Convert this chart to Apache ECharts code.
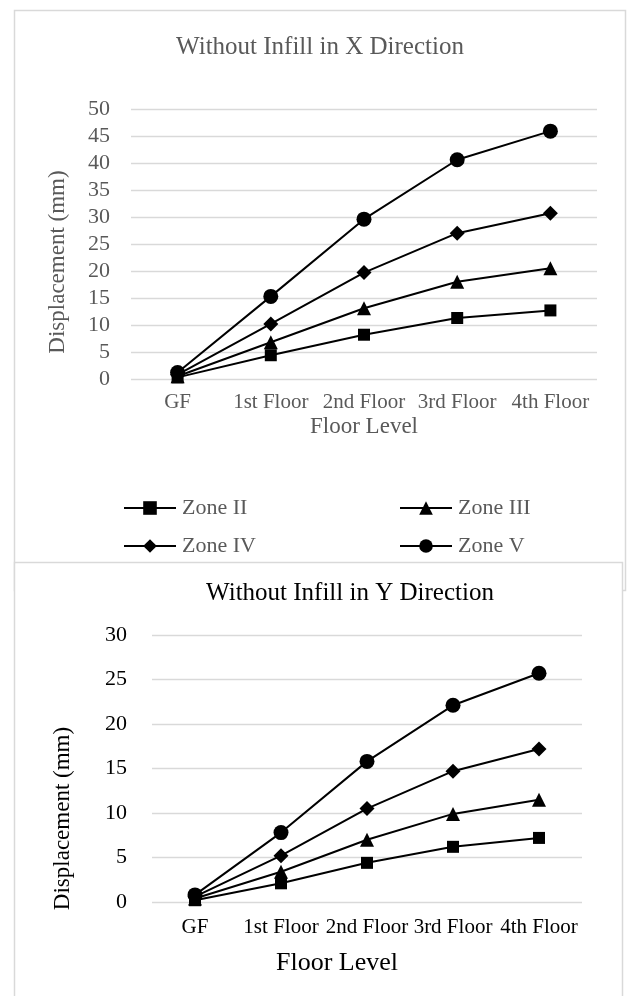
<!DOCTYPE html>
<html>
<head>
<meta charset="utf-8">
<script src="https://cdn.jsdelivr.net/npm/echarts@6/dist/echarts.min.js"></script>
<style>
html,body{margin:0;padding:0;background:#fff;}
#c{width:630px;height:996px;}
</style>
</head>
<body>
<div id="c"></div>
<script>
var categories = ['GF', '1st Floor', '2nd Floor', '3rd Floor', '4th Floor'];
var seriesNames = ['Zone II', 'Zone III', 'Zone IV', 'Zone V'];
var symbols = ['rect', 'triangle', 'diamond', 'circle'];
var symbolSizes = [12, 14, 15, 15];

// Without Infill in X Direction (mm)
var xZoneII  = [0.3, 4.4, 8.2, 11.3, 12.7];
var xZoneIII = [0.5, 6.8, 13.1, 18.0, 20.5];
var xZoneIV  = [0.8, 10.2, 19.7, 27.0, 30.7];
var xZoneV   = [1.2, 15.3, 29.6, 40.6, 45.9];

// Without Infill in Y Direction (mm)
var yZoneII  = [0.2, 2.1, 4.4, 6.2, 7.2];
var yZoneIII = [0.4, 3.4, 7.0, 9.9, 11.5];
var yZoneIV  = [0.6, 5.2, 10.5, 14.7, 17.2];
var yZoneV   = [0.8, 7.8, 15.8, 22.1, 25.7];

var topTicks = {min: 0, max: 50, interval: 5};
var botTicks = {min: 0, max: 30, interval: 5};

var FONT = '"Liberation Serif", "Times New Roman", serif';
var GRAY = '#595959';

var chart = echarts.init(document.getElementById('c'), null, {renderer: 'canvas'});

function mkSeries(data, idx, axisIdx) {
  return {
    name: seriesNames[idx],
    type: 'line',
    xAxisIndex: axisIdx,
    yAxisIndex: axisIdx,
    data: data,
    symbol: symbols[idx],
    symbolSize: symbolSizes[idx],
    showAllSymbol: true,
    lineStyle: {color: '#000', width: 2},
    itemStyle: {color: '#000', borderWidth: 0},
    emphasis: {disabled: true},
    animation: false
  };
}

var topData = [xZoneII, xZoneIII, xZoneIV, xZoneV];
var botData = [yZoneII, yZoneIII, yZoneIV, yZoneV];
var series = [];
topData.forEach(function (d, i) { series.push(mkSeries(d, i, 0)); });
botData.forEach(function (d, i) { series.push(mkSeries(d, i, 1)); });

function legendCfg(names, left) {
  return {
    data: names,
    orient: 'vertical',
    left: left,
    top: 497,
    padding: 0,
    itemWidth: 52,
    itemHeight: 17,
    itemGap: 16,
    selectedMode: false,
    textStyle: {fontFamily: FONT, fontSize: 22, color: GRAY, padding: [0, 0, 0, 1]}
  };
}

var option = {
  animation: false,
  backgroundColor: '#fff',
  graphic: [
    {type: 'rect', z: -3, shape: {x: 14.5, y: 10.5, width: 611, height: 580},
     style: {fill: '#fff', stroke: '#d9d9d9', lineWidth: 1.5}},
    {type: 'rect', z: -2, shape: {x: 14.5, y: 562.5, width: 608, height: 450},
     style: {fill: '#fff', stroke: '#d9d9d9', lineWidth: 1.5}},
    {type: 'text', z: 5, x: 320, y: 47,
     style: {text: 'Without Infill in X Direction', font: '25px ' + FONT, fill: GRAY, align: 'center', verticalAlign: 'middle'}},
    {type: 'text', z: 5, x: 350, y: 593,
     style: {text: 'Without Infill in Y Direction', font: '25px ' + FONT, fill: '#000', align: 'center', verticalAlign: 'middle'}}
  ],
  legend: [
    legendCfg(['Zone II', 'Zone IV'], 123),
    legendCfg(['Zone III', 'Zone V'], 399)
  ],
  grid: [
    {left: 131, top: 109, width: 466, height: 270, containLabel: false},
    {left: 152, top: 635, width: 430, height: 267, containLabel: false}
  ],
  xAxis: [
    {
      type: 'category', gridIndex: 0, data: categories, boundaryGap: true,
      axisLine: {show: false}, axisTick: {show: false},
      axisLabel: {interval: 0, margin: 13, fontFamily: FONT, fontSize: 21, color: GRAY},
      name: 'Floor Level', nameLocation: 'middle', nameGap: 36,
      nameTextStyle: {fontFamily: FONT, fontSize: 23, color: GRAY}
    },
    {
      type: 'category', gridIndex: 1, data: categories, boundaryGap: true,
      axisLine: {show: false}, axisTick: {show: false},
      axisLabel: {interval: 0, margin: 15, fontFamily: FONT, fontSize: 21, color: '#000'},
      name: 'Floor Level', nameLocation: 'middle', nameGap: 48,
      nameTextStyle: {fontFamily: FONT, fontSize: 26, color: '#000', padding: [0, 60, 0, 0]}
    }
  ],
  yAxis: [
    {
      type: 'value', gridIndex: 0, min: topTicks.min, max: topTicks.max, interval: topTicks.interval,
      axisLine: {show: false}, axisTick: {show: false},
      splitLine: {lineStyle: {color: '#d9d9d9', width: 1.3}},
      axisLabel: {margin: 21, fontFamily: FONT, fontSize: 22, color: GRAY},
      name: 'Displacement (mm)', nameLocation: 'middle', nameGap: 62,
      nameTextStyle: {fontFamily: FONT, fontSize: 23, color: GRAY, padding: [0, 36, 0, 0]}
    },
    {
      type: 'value', gridIndex: 1, min: botTicks.min, max: botTicks.max, interval: botTicks.interval,
      axisLine: {show: false}, axisTick: {show: false},
      splitLine: {lineStyle: {color: '#d9d9d9', width: 1.3}},
      axisLabel: {margin: 25, fontFamily: FONT, fontSize: 22, color: '#000'},
      name: 'Displacement (mm)', nameLocation: 'middle', nameGap: 78,
      nameTextStyle: {fontFamily: FONT, fontSize: 23, color: '#000', padding: [0, 100, 0, 0]}
    }
  ],
  series: series
};
chart.setOption(option);
</script>
</body>
</html>
